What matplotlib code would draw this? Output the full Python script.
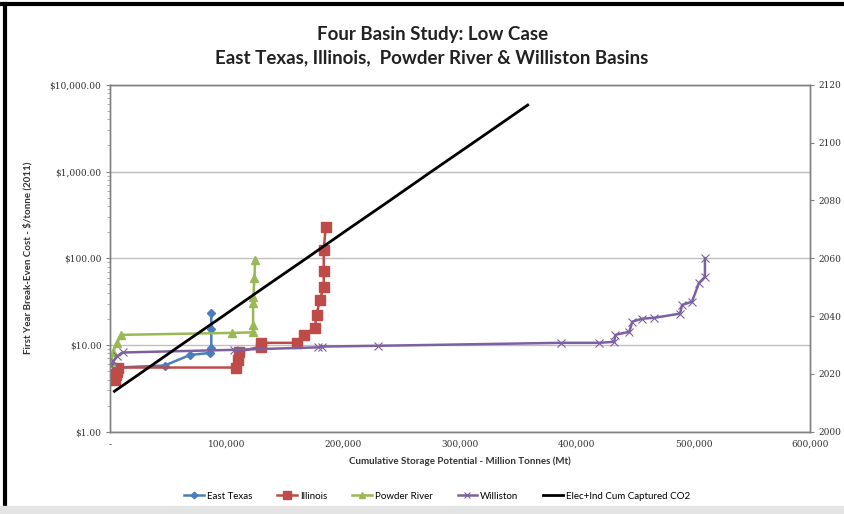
import matplotlib.pyplot as plt
import numpy as np
from matplotlib import ticker
from matplotlib.lines import Line2D

# cumulative storage (Mt) vs first-year break-even cost ($/tonne)
et_x = [1000, 5000, 47000, 69000, 86000, 87000, 87000, 87000]
et_y = [4.8, 5.5, 5.8, 7.7, 8.1, 9.3, 15.5, 23.5]

il_x = [4200, 5000, 6000, 6800, 108300, 109500, 111000, 129600, 129600,
        160300, 166200, 175600, 177300, 179900, 183300, 183300, 183300, 185000]
il_y = [4.0, 4.5, 4.9, 5.5, 5.5, 6.8, 8.4, 9.6, 10.6,
        10.6, 13.1, 15.8, 22.4, 33, 47, 72, 126, 230]

pr_x = [1000, 3000, 6000, 10000, 104900, 122800, 122800, 122800, 123000, 124000, 124500]
pr_y = [6.3, 8.4, 10.5, 13.1, 13.8, 14.0, 17.1, 30.7, 36, 60, 96]

wl_x = [1500, 3000, 6000, 11000, 106600, 178000, 181600, 230000, 386200, 419400,
        432200, 433000, 445000, 447600, 456100, 466300, 488500, 490200,
        498700, 504700, 509800, 509800]
wl_y = [5.8, 6.5, 7.4, 8.2, 8.8, 9.4, 9.6, 9.8, 10.6, 10.6,
        10.9, 13.1, 14.2, 18.6, 20.1, 20.6, 23, 29,
        31.6, 52, 61, 100]

# cumulative captured CO2 (Mt) vs year (secondary axis)
co2_x = [4000, 25500, 61000, 97000, 132500, 168500, 204000, 240000, 275500, 311500, 358000]
co2_year = [2014, 2020, 2030, 2040, 2050, 2060, 2070, 2080, 2090, 2100, 2113]

y_ticks = [1, 10, 100, 1000, 10000]
y_labels = ["$1.00", "$10.00", "$100.00", "$1,000.00", "$10,000.00"]
x_ticks = [0, 100000, 200000, 300000, 400000, 500000, 600000]
x_labels = ["-", "100,000", "200,000", "300,000", "400,000", "500,000", "600,000"]
yr_ticks = [2000, 2020, 2040, 2060, 2080, 2100, 2120]

fig = plt.figure(figsize=(8.44, 5.14), dpi=100)
ax = fig.add_axes([0.130, 0.160, 0.830, 0.675])
ax2 = ax.twinx()

tick_font = {"family": "DejaVu Serif", "size": 6.5, "color": "#333333"}

ax.plot(et_x, et_y, color="#4A7EBB", lw=1.8, marker="D", ms=4.5, label="East Texas", zorder=3)
ax.plot(il_x, il_y, color="#BE4B48", lw=1.8, marker="s", ms=7, label="Illinois", zorder=3)
ax.plot(pr_x, pr_y, color="#98B954", lw=1.8, marker="^", ms=6, label="Powder River", zorder=3)
ax.plot(wl_x, wl_y, color="#7D60A0", lw=1.8, marker="x", ms=6, mew=0.8,
        label="Williston", zorder=3)
ax2.plot(co2_x, co2_year, color="black", lw=2, label="Elec+Ind Cum Captured CO2")

ax.set_yscale("log")
ax.set_ylim(1, 10000)
ax.set_xlim(0, 600000)
ax2.set_ylim(2000, 2120)

ax.set_yticks(y_ticks)
ax.set_yticklabels(y_labels, fontdict=tick_font)
ax.yaxis.set_minor_locator(ticker.LogLocator(base=10, subs=np.arange(2, 10)))
ax.yaxis.set_minor_formatter(ticker.NullFormatter())
ax.set_xticks(x_ticks)
ax.set_xticklabels(x_labels, fontdict=tick_font)
ax2.set_yticks(yr_ticks)
ax2.set_yticklabels([str(t) for t in yr_ticks], fontdict=tick_font)

ax.grid(axis="y", which="major", color="#BFBFBF", lw=1)
ax.set_axisbelow(True)
for a in (ax, ax2):
    for s in a.spines.values():
        s.set_color("#808080")
        s.set_linewidth(1)
ax.tick_params(axis="both", which="major", length=3, color="#808080", pad=3)
ax.tick_params(axis="y", which="minor", length=2, color="#A0A0A0")
ax.tick_params(axis="x", length=0, pad=6)
ax2.tick_params(axis="y", length=3, color="#808080", pad=3)

ax.set_ylabel("First Year Break-Even Cost - $/tonne (2011)", family="Lato",
              fontsize=7, fontweight="bold", color="#333333", labelpad=12)
ax.set_xlabel("Cumulative Storage Potential - Million Tonnes (Mt)", family="Lato",
              fontsize=7, fontweight="bold", color="#333333", labelpad=5)

fig.text(0.512, 0.932, "Four Basin Study: Low Case", ha="center", va="center",
         family="Lato", fontsize=13.5, fontweight="bold", color="#222222")
fig.text(0.512, 0.887, "East Texas, Illinois,  Powder River & Williston Basins",
         ha="center", va="center", family="Lato", fontsize=13.5, fontweight="bold",
         color="#222222")

handles = ax.get_legend_handles_labels()[0] + ax2.get_legend_handles_labels()[0]
labels = [h.get_label() for h in handles]
fig.legend(handles, labels, loc="center", bbox_to_anchor=(0.518, 0.035), ncol=5,
           frameon=False, prop={"family": "Lato", "size": 7}, handlelength=2.0,
           handletextpad=0.3, columnspacing=2.6, markerscale=0.75)

# screenshot frame: thick black top and left edges, grey band at bottom
fig.add_artist(Line2D([0, 1], [0.992, 0.992], transform=fig.transFigure, color="black", lw=3))
fig.add_artist(Line2D([0.006, 0.006], [0, 0.992], transform=fig.transFigure, color="black", lw=3))
fig.add_artist(Line2D([0, 1], [0.008, 0.008], transform=fig.transFigure, color="#E4E4E4", lw=6))

fig.savefig("out.png", dpi=100)
